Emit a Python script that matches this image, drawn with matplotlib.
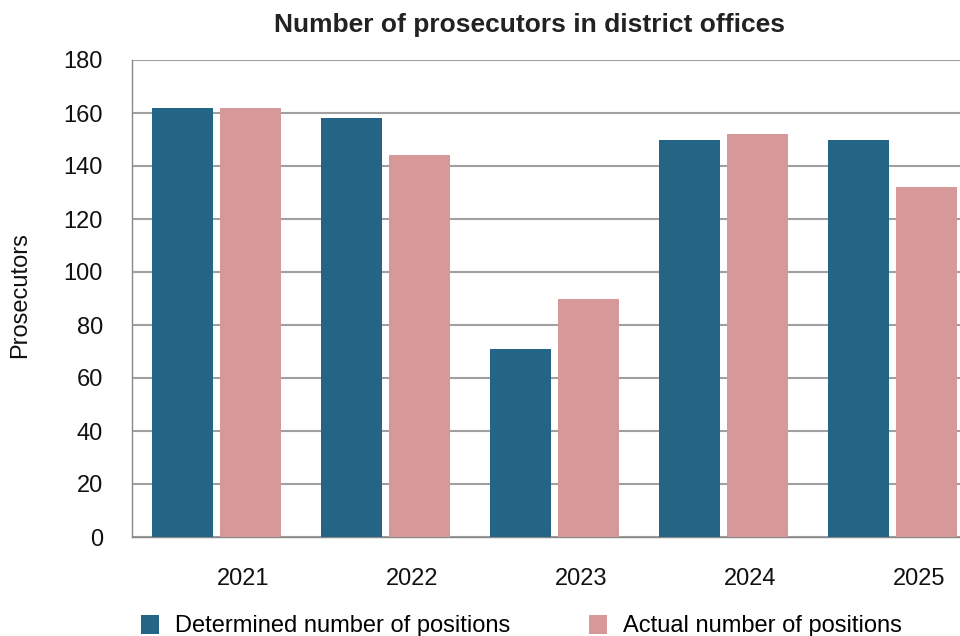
import matplotlib.pyplot as plt
import matplotlib.transforms as mtransforms
from matplotlib.patches import Patch
import numpy as np

plt.rcParams['font.family'] = ['Liberation Sans', 'DejaVu Sans']

# data
years = ['2021', '2022', '2023', '2024', '2025']
determined = [162, 158, 71, 150, 150]
actual = [162, 144, 90, 152, 132]

c_det = '#246484'
c_act = '#d69898'

fig = plt.figure(figsize=(9.6, 6.36), dpi=100)
# axes runs a bit past the right edge of the figure
ax = fig.add_axes([132 / 960, 99 / 636, 845 / 960, 477 / 636])

x = np.arange(len(years))
w = 0.361
off = 0.201
ax.bar(x - off, determined, width=w, color=c_det, zorder=3)
ax.bar(x + off, actual, width=w, color=c_act, zorder=3)

ax.set_xlim(-0.5, len(years) - 0.5)
ax.set_ylim(0, 180)
ax.set_yticks(range(0, 181, 20))
ax.set_xticks(x)
ax.set_xticklabels(years)

ax.yaxis.grid(True, color='#a0a0a0', linewidth=1.5, zorder=0)
ax.set_axisbelow(True)
for s in ['top', 'right']:
    ax.spines[s].set_visible(False)
for s in ['left', 'bottom']:
    ax.spines[s].set_color('#888888')
    ax.spines[s].set_linewidth(1.0)

ax.tick_params(axis='both', length=0, labelsize=17, colors='#111111')
ax.tick_params(axis='y', pad=21)
ax.tick_params(axis='x', pad=22)

# year labels sit right of the group centres
shift = mtransforms.ScaledTranslation(0.27, 0, fig.dpi_scale_trans)
for lbl in ax.get_xticklabels():
    lbl.set_transform(lbl.get_transform() + shift)

ax.set_ylabel('Prosecutors', fontsize=17, color='#111111')
ax.yaxis.set_label_coords(-0.1195, 0.507)

fig.text(529 / 960, 1 - 25 / 636, 'Number of prosecutors in district offices',
         ha='center', va='center', fontsize=19, fontweight='bold', color='#222222')

handles = [Patch(facecolor=c_det), Patch(facecolor=c_act)]
fig.legend(handles, ['Determined number of positions', 'Actual number of positions'],
           loc='center left', bbox_to_anchor=(141 / 960, 1 - 626 / 636), ncol=2,
           frameon=False, fontsize=17, handlelength=0.76, handleheight=0.9,
           handletextpad=0.7, columnspacing=3.3, borderaxespad=0, borderpad=0)

fig.savefig('out.png', dpi=100)
